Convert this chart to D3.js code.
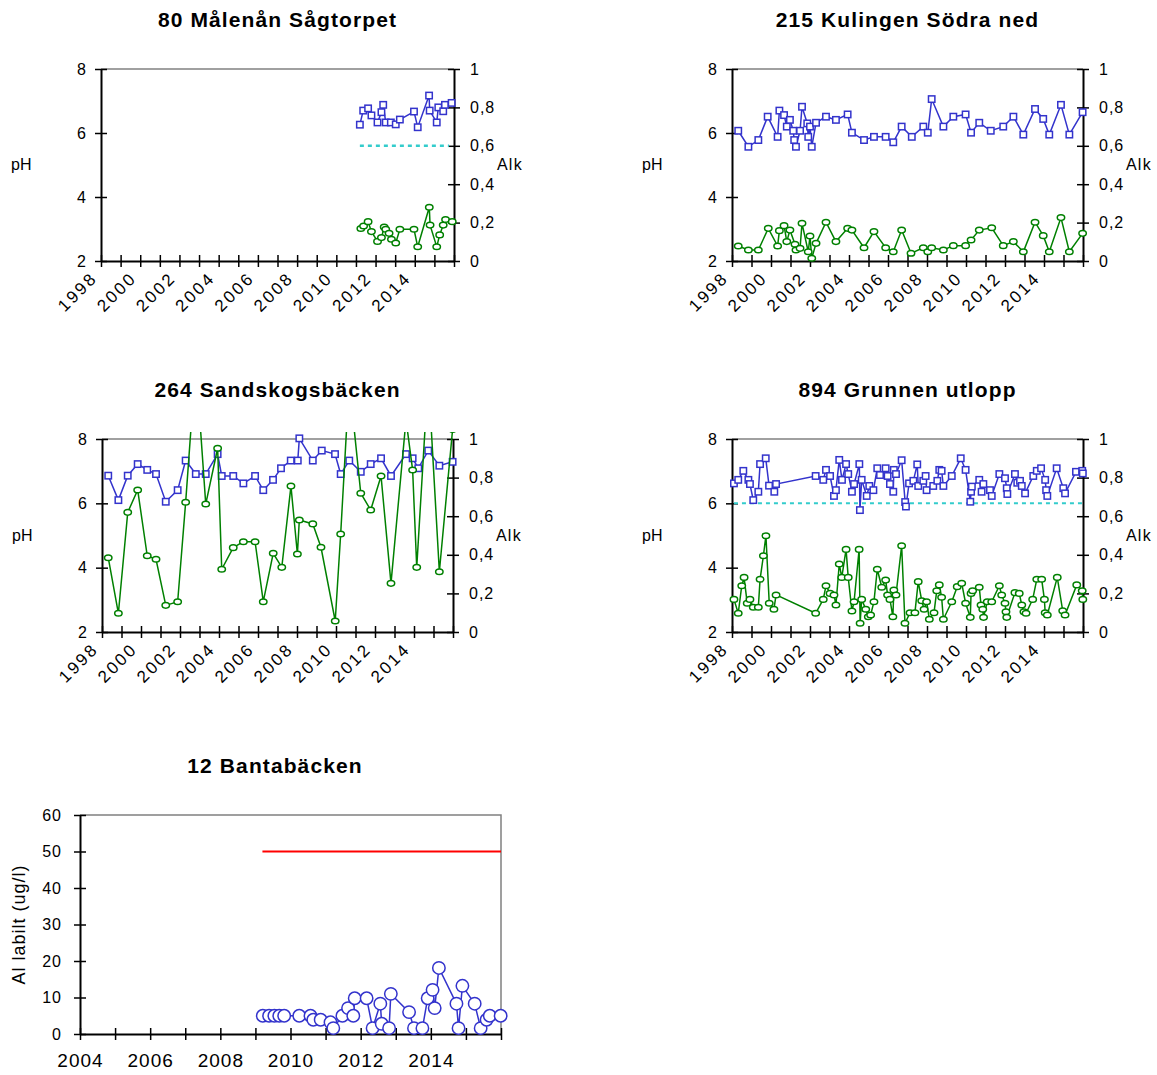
<!DOCTYPE html>
<html><head><meta charset="utf-8">
<script src="https://cdn.jsdelivr.net/npm/d3@7"></script>
<style>body{margin:0;background:#fff}svg text{font-family:"Liberation Sans",Arial,sans-serif}</style>
</head><body>
<script>
// ---------- DATA ----------
// 80 Målenån Sågtorpet
const s80PhYear = [2011.20,2011.37,2011.62,2011.79,2012.10,2012.30,2012.39,2012.52,2012.78,2013.03,2013.24,2013.96,2014.15,2014.73,2014.76,2015.12,2015.20,2015.45,2015.54,2015.88];
const s80Ph     = [6.26,6.70,6.77,6.55,6.33,6.65,6.88,6.33,6.33,6.27,6.42,6.67,6.18,7.17,6.70,6.33,6.80,6.68,6.88,6.94];
const s80AlkYear = [2011.25,2011.39,2011.62,2011.79,2012.10,2012.30,2012.44,2012.52,2012.69,2012.81,2013.03,2013.24,2013.96,2014.15,2014.74,2014.78,2015.12,2015.27,2015.45,2015.57,2015.91];
const s80Alk     = [0.169,0.182,0.205,0.153,0.102,0.122,0.177,0.165,0.144,0.113,0.094,0.165,0.165,0.074,0.280,0.187,0.074,0.136,0.187,0.216,0.205];

// 215 Kulingen Södra ned
const s215PhYear = [1998.32,1998.84,1999.35,1999.83,2000.34,2000.43,2000.67,2000.81,2000.97,2001.14,2001.19,2001.28,2001.49,2001.59,2001.86,2001.91,2002.00,2002.09,2002.31,2002.82,2003.33,2003.93,2004.15,2004.77,2005.28,2005.88,2006.27,2006.70,2007.22,2007.81,2008.04,2008.24,2008.84,2009.35,2009.98,2010.26,2010.68,2011.27,2011.91,2012.43,2012.94,2013.54,2013.96,2014.27,2014.87,2015.30,2015.98];
const s215Ph     = [6.07,5.57,5.78,6.51,5.88,6.70,6.56,6.20,6.41,6.07,5.78,5.57,6.07,6.82,6.30,5.88,6.20,5.57,6.32,6.51,6.41,6.58,6.01,5.78,5.88,5.88,5.71,6.20,5.88,6.20,6.01,7.06,6.20,6.51,6.58,6.01,6.32,6.07,6.20,6.51,5.95,6.75,6.44,5.95,6.88,5.95,6.65];
const s215AlkYear = [1998.32,1998.84,1999.35,1999.86,2000.34,2000.43,2000.67,2000.81,2000.97,2001.23,2001.28,2001.49,2001.59,2001.91,2002.00,2002.09,2002.31,2002.82,2003.33,2003.93,2004.15,2004.77,2005.28,2005.88,2006.27,2006.70,2007.18,2007.81,2008.04,2008.24,2008.84,2009.35,2009.98,2010.26,2010.68,2011.32,2011.91,2012.43,2012.94,2013.54,2013.96,2014.27,2014.87,2015.30,2015.98];
const s215Alk     = [0.078,0.057,0.057,0.170,0.078,0.158,0.184,0.101,0.161,0.087,0.057,0.066,0.196,0.048,0.130,0.014,0.092,0.202,0.101,0.170,0.161,0.069,0.153,0.069,0.048,0.161,0.040,0.069,0.048,0.069,0.057,0.080,0.080,0.109,0.161,0.173,0.080,0.101,0.048,0.202,0.132,0.048,0.226,0.048,0.144];

// 264 Sandskogsbäcken
const s264PhYear = [1998.32,1998.84,1999.32,1999.83,2000.32,2000.77,2001.27,2001.88,2002.29,2002.81,2003.32,2003.93,2004.14,2004.73,2005.25,2005.85,2006.27,2006.77,2007.18,2007.68,2008.04,2008.12,2008.81,2009.27,2009.95,2010.24,2010.68,2011.27,2011.78,2012.31,2012.82,2013.59,2013.93,2014.22,2014.73,2015.30,2015.98];
const s264Ph     = [6.86,6.10,6.86,7.22,7.04,6.91,6.05,6.41,7.33,6.91,6.91,7.53,6.85,6.85,6.62,6.85,6.41,6.73,7.09,7.33,7.33,8.02,7.33,7.64,7.53,6.91,7.33,6.98,7.22,7.40,6.85,7.53,7.40,7.09,7.64,7.17,7.29];
const s264AlkYear = [1998.32,1998.84,1999.32,1999.83,2000.32,2000.77,2001.27,2001.88,2002.29,2002.81,2003.32,2003.93,2004.14,2004.73,2005.25,2005.85,2006.27,2006.78,2007.22,2007.69,2008.02,2008.12,2008.81,2009.23,2009.96,2010.24,2010.68,2011.27,2011.78,2012.31,2012.82,2013.59,2013.93,2014.14,2014.73,2015.30,2015.98];
const s264Alk     = [0.385,0.097,0.620,0.736,0.395,0.377,0.138,0.157,0.672,1.40,0.663,0.952,0.325,0.437,0.468,0.468,0.157,0.408,0.335,0.756,0.404,0.580,0.560,0.439,0.057,0.508,1.30,0.719,0.632,0.808,0.252,1.10,0.839,0.335,1.33,0.312,1.05];

// 894 Grunnen utlopp
const s894PhYear = [1998.10,1998.32,1998.58,1998.84,1998.92,1999.09,1999.35,1999.44,1999.73,1999.90,2000.17,2000.26,2002.29,2002.68,2002.82,2003.03,2003.23,2003.33,2003.50,2003.64,2003.85,2003.96,2004.15,2004.26,2004.53,2004.56,2004.65,2004.91,2005.04,2005.25,2005.45,2005.59,2005.88,2005.98,2006.10,2006.27,2006.30,2006.41,2006.70,2006.88,2006.92,2007.08,2007.30,2007.50,2007.55,2007.81,2007.93,2007.98,2008.32,2008.53,2008.63,2008.75,2008.84,2009.27,2009.73,2009.98,2010.22,2010.26,2010.30,2010.68,2010.80,2010.89,2011.23,2011.32,2011.71,2012.00,2012.09,2012.12,2012.51,2012.63,2012.77,2012.86,2013.03,2013.45,2013.63,2013.85,2014.06,2014.11,2014.17,2014.65,2014.99,2015.08,2015.64,2015.96,2015.99];
const s894Ph     = [6.62,6.73,7.01,6.73,6.60,6.10,6.36,7.22,7.40,6.55,6.36,6.60,6.85,6.73,7.04,6.85,6.23,6.41,7.35,6.73,7.22,6.91,6.36,6.60,7.22,5.79,6.73,6.23,6.54,6.41,7.09,6.88,7.09,6.85,6.60,6.36,7.04,6.91,7.34,6.04,5.90,6.62,6.70,7.21,6.54,6.70,6.85,6.41,6.54,6.70,7.04,7.01,6.54,6.85,7.40,7.04,6.05,6.36,6.52,6.73,6.36,6.60,6.41,6.23,6.91,6.78,6.47,6.29,6.91,6.64,6.70,6.54,6.31,6.85,7.01,7.09,6.73,6.41,6.23,7.09,6.47,6.31,6.98,7.01,6.93];
const s894AlkYear = [1998.10,1998.32,1998.50,1998.62,1998.78,1998.92,1999.09,1999.35,1999.44,1999.61,1999.74,1999.91,2000.15,2000.26,2002.29,2002.68,2002.82,2003.03,2003.23,2003.33,2003.50,2003.63,2003.85,2003.96,2004.15,2004.26,2004.52,2004.57,2004.65,2004.86,2004.99,2005.11,2005.28,2005.45,2005.68,2005.88,2005.98,2006.10,2006.25,2006.30,2006.41,2006.70,2006.87,2007.13,2007.38,2007.55,2007.73,2007.85,2007.98,2008.12,2008.36,2008.50,2008.63,2008.75,2008.84,2009.27,2009.55,2009.78,2009.98,2010.22,2010.26,2010.34,2010.68,2010.77,2010.86,2010.90,2011.09,2011.32,2011.71,2011.83,2012.00,2012.05,2012.09,2012.51,2012.73,2012.86,2012.97,2013.08,2013.42,2013.63,2013.88,2014.02,2014.06,2014.17,2014.68,2014.96,2015.08,2015.68,2015.96,2015.99];
const s894Alk     = [0.169,0.097,0.240,0.283,0.149,0.169,0.128,0.128,0.273,0.395,0.499,0.149,0.118,0.192,0.097,0.169,0.240,0.200,0.192,0.140,0.352,0.283,0.428,0.283,0.109,0.157,0.428,0.045,0.169,0.118,0.079,0.088,0.157,0.325,0.232,0.269,0.192,0.169,0.079,0.218,0.192,0.447,0.045,0.100,0.100,0.261,0.162,0.118,0.157,0.066,0.100,0.214,0.244,0.180,0.066,0.157,0.235,0.252,0.149,0.076,0.200,0.214,0.232,0.140,0.118,0.076,0.157,0.157,0.240,0.192,0.149,0.105,0.076,0.204,0.200,0.140,0.105,0.097,0.169,0.273,0.273,0.169,0.100,0.088,0.283,0.110,0.088,0.244,0.214,0.169];

// 12 Bantabäcken (Al labilt)
const alYear = [2009.21,2009.39,2009.54,2009.68,2009.82,2010.25,2010.57,2010.65,2010.86,2011.14,2011.22,2011.48,2011.64,2011.79,2011.83,2012.17,2012.34,2012.56,2012.60,2012.81,2012.86,2013.38,2013.52,2013.76,2013.91,2014.05,2014.11,2014.23,2014.73,2014.79,2014.90,2015.25,2015.42,2015.59,2015.68,2015.99];
const alValue = [5,5,5,5,5,5,5,3.9,3.9,3.2,1.6,5,7.1,5,9.8,9.8,1.6,8.3,2.8,1.6,11.0,6.0,1.6,1.6,9.8,12.1,7.1,18.1,8.3,1.6,13.2,8.3,1.6,3.9,5,5];
const alLimit = {value: 50, from: 2009.2, to: 2016};

// tick labels
const phTicks = [2,4,6,8];
const alkTicks = [0,0.2,0.4,0.6,0.8,1];
const alkTickLabels = ["0","0,2","0,4","0,6","0,8","1"];
const yearTicks = [1998,1999,2000,2001,2002,2003,2004,2005,2006,2007,2008,2009,2010,2011,2012,2013,2014,2015,2016];
const yearLabels = [1998,2000,2002,2004,2006,2008,2010,2012,2014];
const alTicks = [0,10,20,30,40,50,60];
const alYearTicks = [2004,2005,2006,2007,2008,2009,2010,2011,2012,2013,2014,2015,2016];
const alYearLabels = [2004,2006,2008,2010,2012,2014];

// ---------- DRAWING ----------
const BLUE = "#3333cc", GREEN = "#008000", CYAN = "#33cccc";
const svg = d3.select("body").append("svg").attr("width",1157).attr("height",1075);
const defs = svg.append("defs");
let clipN = 0;

function styleAxis(ga, orient){
  ga.select(".domain").attr("stroke","#000").attr("stroke-width",2);
  const tl = ga.selectAll(".tick line").attr("stroke","#000").attr("stroke-width",1.5);
  if (orient==="v") tl.attr("x1",-6).attr("x2",6);
  else tl.attr("y1",-6).attr("y2",6);
  ga.selectAll("text").attr("fill","#000").attr("font-size",16).attr("letter-spacing",1)
    .style("font-family",'"Liberation Sans",Arial,sans-serif');
}

function phPanel(c){
  const g = svg.append("g");
  const x = d3.scaleLinear().domain([1998,2016]).range([c.L,c.R]);
  const yP = d3.scaleLinear().domain([2,8]).range([c.B,c.T]);
  const yA = d3.scaleLinear().domain([0,1]).range([c.B,c.T]);

  g.append("text").attr("x",(c.L+c.R)/2).attr("y",c.T-42).attr("text-anchor","middle")
    .attr("font-size",21).attr("font-weight","bold").attr("letter-spacing",1.1).text(c.title);

  g.append("line").attr("x1",c.L).attr("x2",c.R).attr("y1",c.T).attr("y2",c.T)
    .attr("stroke","#808080").attr("stroke-width",1.5);

  const gl = g.append("g").attr("transform",`translate(${c.L},0)`)
    .call(d3.axisLeft(yP).tickValues(phTicks).tickFormat(d3.format("d")).tickSize(0).tickSizeOuter(0).tickPadding(14));
  styleAxis(gl,"v");
  const gr = g.append("g").attr("transform",`translate(${c.R},0)`)
    .call(d3.axisRight(yA).tickValues(alkTicks).tickFormat((d,i)=>alkTickLabels[i]).tickSize(0).tickSizeOuter(0).tickPadding(16));
  styleAxis(gr,"v");
  const gb = g.append("g").attr("transform",`translate(0,${c.B})`)
    .call(d3.axisBottom(x).tickValues(yearTicks).tickFormat(d=>yearLabels.includes(d)?d:"").tickSize(0).tickSizeOuter(0));
  styleAxis(gb,"h");
  gb.selectAll("text").attr("text-anchor","end").attr("y",0).attr("dy",0)
    .attr("font-size",17).attr("letter-spacing",2.5)
    .attr("transform","translate(-3,18) rotate(-45)");

  g.append("text").attr("x",c.L-90).attr("y",(c.T+c.B)/2+5).attr("font-size",16).text("pH");
  g.append("text").attr("x",c.R+43).attr("y",(c.T+c.B)/2+5).attr("font-size",16).attr("letter-spacing",1.2).text("Alk");

  const id = "clip"+(clipN++);
  defs.append("clipPath").attr("id",id).append("rect")
    .attr("x",c.L-10).attr("y",c.T-7).attr("width",c.R-c.L+20).attr("height",c.B-c.T+17);
  const p = g.append("g").attr("clip-path",`url(#${id})`);

  if (c.ref){
    p.append("line").attr("x1",x(c.ref.from)).attr("x2",x(c.ref.to))
      .attr("y1",yP(c.ref.ph)).attr("y2",yP(c.ref.ph))
      .attr("stroke",CYAN).attr("stroke-width",c.ref.w).attr("stroke-dasharray","4,4");
  }
  const phData = d3.zip(c.phX,c.phY);
  const alkData = d3.zip(c.alkX,c.alkY);
  p.append("path").datum(phData).attr("fill","none").attr("stroke",BLUE).attr("stroke-width",1.5)
    .attr("d",d3.line().x(d=>x(d[0])).y(d=>yP(d[1])));
  p.selectAll(".sq").data(phData).join("rect")
    .attr("x",d=>x(d[0])-3.2).attr("y",d=>yP(d[1])-3.2).attr("width",6.4).attr("height",6.4)
    .attr("fill","#fff").attr("stroke",BLUE).attr("stroke-width",1.5);
  p.append("path").datum(alkData).attr("fill","none").attr("stroke",GREEN).attr("stroke-width",1.5)
    .attr("d",d3.line().x(d=>x(d[0])).y(d=>yA(d[1])));
  p.selectAll(".ci").data(alkData).join("ellipse")
    .attr("cx",d=>x(d[0])).attr("cy",d=>yA(d[1])).attr("rx",3.7).attr("ry",2.8)
    .attr("fill","#fff").attr("stroke",GREEN).attr("stroke-width",1.5);
}

phPanel({L:101,R:454,T:69,B:261,title:"80 Målenån Sågtorpet",phX:s80PhYear,phY:s80Ph,alkX:s80AlkYear,alkY:s80Alk,
  ref:{from:2011.2,to:2015.75,ph:5.6,w:2.5}});
phPanel({L:732,R:1083,T:69,B:261,title:"215 Kulingen Södra ned",phX:s215PhYear,phY:s215Ph,alkX:s215AlkYear,alkY:s215Alk});
phPanel({L:102,R:453,T:439,B:632,title:"264 Sandskogsbäcken",phX:s264PhYear,phY:s264Ph,alkX:s264AlkYear,alkY:s264Alk});
phPanel({L:732,R:1083,T:439,B:632,title:"894 Grunnen utlopp",phX:s894PhYear,phY:s894Ph,alkX:s894AlkYear,alkY:s894Alk,
  ref:{from:1998.1,to:2016,ph:6,w:2}});

// Al panel
(function(){
  const L=80,R=501,T=815,B=1034;
  const g = svg.append("g");
  const x = d3.scaleLinear().domain([2004,2016]).range([L,R]);
  const y = d3.scaleLinear().domain([0,60]).range([B,T]);
  g.append("text").attr("x",275).attr("y",T-42).attr("text-anchor","middle")
    .attr("font-size",21).attr("font-weight","bold").attr("letter-spacing",1.1).text("12 Bantabäcken");
  g.append("path").attr("d",`M${L},${T}H${R}V${B}`).attr("fill","none").attr("stroke","#808080").attr("stroke-width",1.5);
  const gl = g.append("g").attr("transform",`translate(${L},0)`)
    .call(d3.axisLeft(y).tickValues(alTicks).tickSize(0).tickSizeOuter(0).tickPadding(18));
  styleAxis(gl,"v");
  const gb = g.append("g").attr("transform",`translate(0,${B})`)
    .call(d3.axisBottom(x).tickValues(alYearTicks).tickFormat(d=>alYearLabels.includes(d)?d:"").tickSize(0).tickSizeOuter(0).tickPadding(20));
  styleAxis(gb,"h");
  gb.selectAll("text").attr("font-size",19).attr("letter-spacing",1);
  g.append("text").attr("transform",`translate(25,${(T+B)/2}) rotate(-90)`).attr("text-anchor","middle")
    .attr("font-size",18).attr("letter-spacing",1).text("Al labilt (ug/l)");
  g.append("line").attr("x1",x(alLimit.from)).attr("x2",x(alLimit.to)).attr("y1",y(alLimit.value)).attr("y2",y(alLimit.value))
    .attr("stroke","#ff0000").attr("stroke-width",2);
  const data = d3.zip(alYear,alValue);
  g.append("path").datum(data).attr("fill","none").attr("stroke",BLUE).attr("stroke-width",1.5)
    .attr("d",d3.line().x(d=>x(d[0])).y(d=>y(d[1])));
  g.selectAll(".al").data(data).join("circle").attr("cx",d=>x(d[0])).attr("cy",d=>y(d[1])).attr("r",6.2)
    .attr("fill","#fff").attr("stroke",BLUE).attr("stroke-width",1.5);
})();
</script>
</body></html>
